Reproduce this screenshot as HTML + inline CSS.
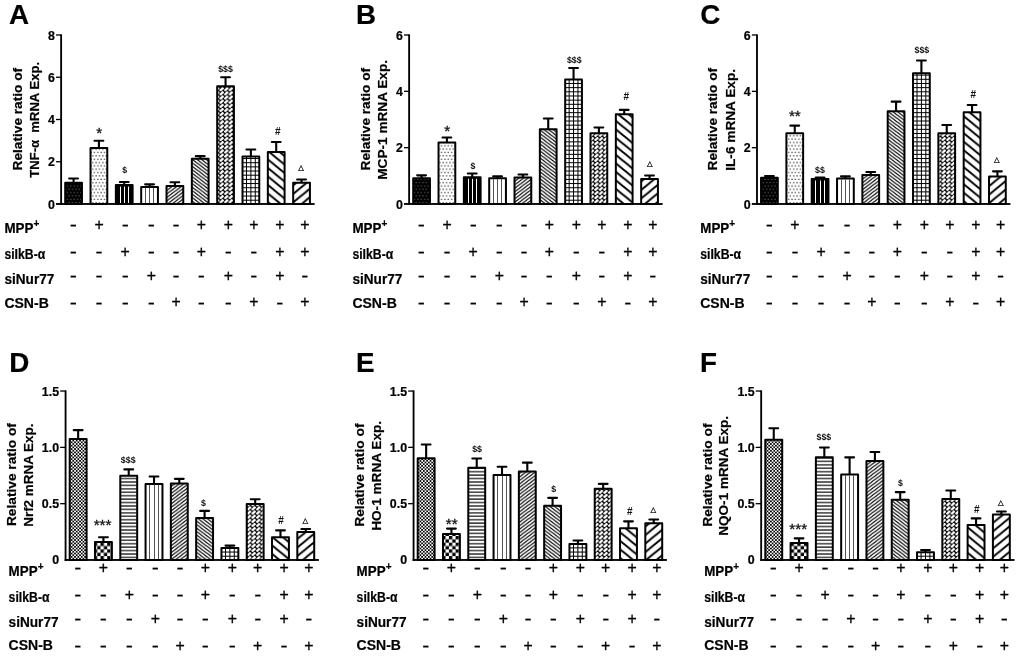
<!DOCTYPE html>
<html lang="en"><head><meta charset="utf-8"><title>Figure</title>
<style>
html,body{margin:0;padding:0;background:#fff;}
body{width:1020px;height:656px;overflow:hidden;}
svg{display:block;font-family:"Liberation Sans", sans-serif;fill:#000;}
text[font-weight=bold]{stroke:#000;stroke-width:0.2px;}
.ann{fill:#111;font-weight:bold;}
.ast{fill:#111;stroke:#111;stroke-width:0.3px;}
.sg{stroke:#000;stroke-width:0.3px;}
.mn{stroke:#000;stroke-width:0.15px;}
.tri{fill:#111;stroke:#111;stroke-width:0.25px;font-family:"DejaVu Sans","Liberation Sans", sans-serif;}
</style></head><body>
<svg width="1020" height="656" viewBox="0 0 1020 656">
<defs>
<pattern id="p_bdots" width="3.37" height="6.7" patternUnits="userSpaceOnUse"><rect width="3.37" height="6.7" fill="#000"/><rect x="1.2" y="1.2" width="1.0" height="0.9" fill="#999"/><rect x="2.9" y="4.55" width="1.0" height="0.9" fill="#999"/><rect x="-0.47" y="4.55" width="1.0" height="0.9" fill="#999"/></pattern>
<pattern id="p_wdots" width="3.37" height="6.7" patternUnits="userSpaceOnUse"><rect width="3.37" height="6.7" fill="#fff"/><rect x="1.2" y="1.2" width="1.1" height="1.1" fill="#000"/><rect x="2.9" y="4.55" width="1.1" height="1.1" fill="#000"/><rect x="-0.47" y="4.55" width="1.1" height="1.1" fill="#000"/></pattern>
<pattern id="p_horiz" width="4" height="3.43" patternUnits="userSpaceOnUse"><rect width="4" height="3.43" fill="#fff"/><rect x="0" y="1.2" width="4" height="1.15" fill="#000"/></pattern>
<pattern id="p_dfwd" width="4.6" height="3.48" patternUnits="userSpaceOnUse"><rect width="4.6" height="3.48" fill="#fff"/><path d="M-4.6,6.96 L9.2,-3.48 M-4.6,3.48 L4.6,-3.48 M0,6.96 L9.2,0" stroke="#000" stroke-width="1.2"/></pattern>
<pattern id="p_dback" width="4.6" height="3.48" patternUnits="userSpaceOnUse"><rect width="4.6" height="3.48" fill="#fff"/><path d="M-4.6,-3.48 L9.2,6.96 M-4.6,0 L4.6,6.96 M0,-3.48 L9.2,3.48" stroke="#000" stroke-width="1.2"/></pattern>
<pattern id="p_weave" width="4.57" height="4.15" patternUnits="userSpaceOnUse"><rect width="4.57" height="4.15" fill="#000"/><path d="M0.55,3.75 L4.05,0.45" stroke="#fff" stroke-width="2.35"/></pattern>
<pattern id="p_grid" width="3.6" height="3.5" patternUnits="userSpaceOnUse"><rect width="3.6" height="3.5" fill="#fff"/><path d="M0,1.75 H3.6 M1.8,0 V3.5" stroke="#000" stroke-width="1.3"/></pattern>
<pattern id="p_diamond" width="4" height="4" patternUnits="userSpaceOnUse"><rect width="4" height="4" fill="#fff"/><path d="M-1,-1 L5,5 M-1,5 L5,-1 M-1,3 L1,5 M3,-1 L5,1 M-1,1 L1,-1 M3,5 L5,3" stroke="#000" stroke-width="1"/></pattern>
<pattern id="p_wback" width="10.4" height="8.5" patternUnits="userSpaceOnUse"><rect width="10.4" height="8.5" fill="#fff"/><path d="M-10.4,-8.5 L20.8,17.0 M-10.4,0 L10.4,17.0 M0,-8.5 L20.8,8.5" stroke="#000" stroke-width="2.0"/></pattern>
<pattern id="p_wfwd" width="10.4" height="8.5" patternUnits="userSpaceOnUse"><rect width="10.4" height="8.5" fill="#fff"/><path d="M-10.4,17.0 L20.8,-8.5 M-10.4,8.5 L10.4,-8.5 M0,17.0 L20.8,0" stroke="#000" stroke-width="2.0"/></pattern>
<pattern id="p_fine" width="3.37" height="3.37" patternUnits="userSpaceOnUse"><rect width="3.37" height="3.37" fill="#fff"/><rect x="0" y="0" width="1.685" height="1.685" fill="#000"/><rect x="1.685" y="1.685" width="1.685" height="1.685" fill="#000"/></pattern>
<pattern id="p_check" width="6.7" height="6.7" patternUnits="userSpaceOnUse"><rect width="6.7" height="6.7" fill="#fff"/><rect x="0" y="0" width="3.35" height="3.35" fill="#000"/><rect x="3.35" y="3.35" width="3.35" height="3.35" fill="#000"/></pattern>
</defs>
<rect width="1020" height="656" fill="#fff"/>
<g><text x="9" y="24" font-size="27.8" font-weight="bold">A</text>
<path d="M73.58,182.8 V178.55 M69.17,178.55 H77.98" stroke="#000" stroke-width="2.1" stroke-linecap="round" fill="none"/>
<rect x="65.2" y="182.8" width="16.75" height="21.2" fill="url(#p_bdots)" stroke="#000" stroke-width="2" stroke-linejoin="round"/>
<path d="M98.91,148 V140.75 M94.5,140.75 H103.31" stroke="#000" stroke-width="2.1" stroke-linecap="round" fill="none"/>
<rect x="90.53" y="148" width="16.75" height="56" fill="url(#p_wdots)" stroke="#000" stroke-width="2" stroke-linejoin="round"/>
<path d="M124.23,185 V182.05 M119.83,182.05 H128.63" stroke="#000" stroke-width="2.1" stroke-linecap="round" fill="none"/>
<rect x="115.86" y="185" width="16.75" height="19" fill="#000" stroke="#000" stroke-width="2" stroke-linejoin="round"/>
<rect x="120" y="186.6" width="1.0" height="16.4" fill="#fff"/>
<rect x="124" y="186.6" width="1.0" height="16.4" fill="#fff"/>
<rect x="128" y="186.6" width="1.0" height="16.4" fill="#fff"/>
<path d="M149.56,186.9 V184.35 M145.16,184.35 H153.97" stroke="#000" stroke-width="2.1" stroke-linecap="round" fill="none"/>
<rect x="141.19" y="186.9" width="16.75" height="17.1" fill="#fff" stroke="#000" stroke-width="2" stroke-linejoin="round"/>
<rect x="145" y="187.7" width="1.0" height="15.3" fill="#555"/>
<rect x="149" y="187.7" width="1.0" height="15.3" fill="#555"/>
<rect x="153" y="187.7" width="1.0" height="15.3" fill="#555"/>
<path d="M174.89,186.1 V182.25 M170.49,182.25 H179.29" stroke="#000" stroke-width="2.1" stroke-linecap="round" fill="none"/>
<rect x="166.52" y="186.1" width="16.75" height="17.9" fill="url(#p_dfwd)" stroke="#000" stroke-width="2" stroke-linejoin="round"/>
<path d="M200.22,158.8 V156.15 M195.82,156.15 H204.62" stroke="#000" stroke-width="2.1" stroke-linecap="round" fill="none"/>
<rect x="191.85" y="158.8" width="16.75" height="45.2" fill="url(#p_dback)" stroke="#000" stroke-width="2" stroke-linejoin="round"/>
<path d="M225.56,86.35 V77.25 M221.16,77.25 H229.96" stroke="#000" stroke-width="2.1" stroke-linecap="round" fill="none"/>
<rect x="217.18" y="86.35" width="16.75" height="117.65" fill="url(#p_weave)" stroke="#000" stroke-width="2" stroke-linejoin="round"/>
<path d="M250.88,156.6 V149.55 M246.48,149.55 H255.28" stroke="#000" stroke-width="2.1" stroke-linecap="round" fill="none"/>
<rect x="242.51" y="156.6" width="16.75" height="47.4" fill="#fff" stroke="#000" stroke-width="2" stroke-linejoin="round"/>
<path d="M246.48,156.6 V203.5 M250.88,156.6 V203.5 M255.28,156.6 V203.5 M242.51,200.23 H259.26 M242.51,196.06 H259.26 M242.51,191.89 H259.26 M242.51,187.72 H259.26 M242.51,183.55 H259.26 M242.51,179.38 H259.26 M242.51,175.21 H259.26 M242.51,171.04 H259.26 M242.51,166.87 H259.26 M242.51,162.7 H259.26 M242.51,158.53 H259.26" stroke="#000" stroke-width="1" fill="none"/>
<path d="M276.21,152 V142.05 M271.81,142.05 H280.61" stroke="#000" stroke-width="2.1" stroke-linecap="round" fill="none"/>
<rect x="267.84" y="152" width="16.75" height="52" fill="url(#p_wback)" stroke="#000" stroke-width="2" stroke-linejoin="round"/>
<path d="M301.54,182.8 V179.55 M297.14,179.55 H305.94" stroke="#000" stroke-width="2.1" stroke-linecap="round" fill="none"/>
<rect x="293.17" y="182.8" width="16.75" height="21.2" fill="url(#p_wfwd)" stroke="#000" stroke-width="2" stroke-linejoin="round"/>
<text x="99.35" y="137.84" font-size="15.3" text-anchor="middle" class="ast">*</text>
<text x="124.8" y="173.43" font-size="8.8" text-anchor="middle" class="ann">$</text>
<text x="225.5" y="71.58" font-size="8.8" text-anchor="middle" class="ann">$$$</text>
<text x="277.7" y="135.2" font-size="10.0" text-anchor="middle" class="ann">#</text>
<text x="301" y="170.13" font-size="7.3" text-anchor="middle" class="tri">△</text>
<rect x="60.2" y="34.35" width="1.85" height="170.5" fill="#000"/>
<rect x="56" y="203.05" width="258.62" height="1.85" fill="#000"/>
<text x="54.8" y="208.55" font-size="12.4" font-weight="bold" text-anchor="end">0</text>
<rect x="56" y="161.1" width="5.1" height="1.3" fill="#000"/>
<text x="54.8" y="166.3" font-size="12.4" font-weight="bold" text-anchor="end">2</text>
<rect x="56" y="118.85" width="5.1" height="1.3" fill="#000"/>
<text x="54.8" y="124.05" font-size="12.4" font-weight="bold" text-anchor="end">4</text>
<rect x="56" y="76.6" width="5.1" height="1.3" fill="#000"/>
<text x="54.8" y="81.8" font-size="12.4" font-weight="bold" text-anchor="end">6</text>
<rect x="56" y="34.35" width="5.1" height="1.3" fill="#000"/>
<text x="54.8" y="39.55" font-size="12.4" font-weight="bold" text-anchor="end">8</text>
<text transform="translate(22.2,170.4) rotate(-90)" font-size="13.6" font-weight="bold" textLength="102.5" lengthAdjust="spacingAndGlyphs" xml:space="preserve" style="white-space:pre">Relative ratio of</text>
<text transform="translate(39.2,177.8) rotate(-90)" font-size="13.6" font-weight="bold" textLength="115.9" lengthAdjust="spacingAndGlyphs" xml:space="preserve" style="white-space:pre">TNF-α  mRNA Exp.</text>
<text x="4.4" y="232.8" font-size="13.9" font-weight="bold" textLength="29" lengthAdjust="spacingAndGlyphs">MPP</text>
<text x="33.5" y="227.4" font-size="10" font-weight="bold">+</text>
<text x="73.4" y="230.88" font-size="18" text-anchor="middle" textLength="7.1" lengthAdjust="spacingAndGlyphs" class="mn">-</text>
<text x="99.1" y="229.84" font-size="15.8" text-anchor="middle" class="sg">+</text>
<text x="125.2" y="230.88" font-size="18" text-anchor="middle" textLength="7.1" lengthAdjust="spacingAndGlyphs" class="mn">-</text>
<text x="151.3" y="230.88" font-size="18" text-anchor="middle" textLength="7.1" lengthAdjust="spacingAndGlyphs" class="mn">-</text>
<text x="176" y="230.88" font-size="18" text-anchor="middle" textLength="7.1" lengthAdjust="spacingAndGlyphs" class="mn">-</text>
<text x="201.4" y="229.84" font-size="15.8" text-anchor="middle" class="sg">+</text>
<text x="228.4" y="229.84" font-size="15.8" text-anchor="middle" class="sg">+</text>
<text x="253.9" y="229.84" font-size="15.8" text-anchor="middle" class="sg">+</text>
<text x="279.9" y="229.84" font-size="15.8" text-anchor="middle" class="sg">+</text>
<text x="304.8" y="229.84" font-size="15.8" text-anchor="middle" class="sg">+</text>
<text x="4.4" y="259.4" font-size="13.9" font-weight="bold" textLength="40.9" lengthAdjust="spacingAndGlyphs">siIkB-α</text>
<text x="73.4" y="257.68" font-size="18" text-anchor="middle" textLength="7.1" lengthAdjust="spacingAndGlyphs" class="mn">-</text>
<text x="99.1" y="257.68" font-size="18" text-anchor="middle" textLength="7.1" lengthAdjust="spacingAndGlyphs" class="mn">-</text>
<text x="125.2" y="256.84" font-size="15.8" text-anchor="middle" class="sg">+</text>
<text x="151.3" y="257.68" font-size="18" text-anchor="middle" textLength="7.1" lengthAdjust="spacingAndGlyphs" class="mn">-</text>
<text x="176" y="257.68" font-size="18" text-anchor="middle" textLength="7.1" lengthAdjust="spacingAndGlyphs" class="mn">-</text>
<text x="201.4" y="256.84" font-size="15.8" text-anchor="middle" class="sg">+</text>
<text x="228.4" y="257.68" font-size="18" text-anchor="middle" textLength="7.1" lengthAdjust="spacingAndGlyphs" class="mn">-</text>
<text x="253.9" y="257.68" font-size="18" text-anchor="middle" textLength="7.1" lengthAdjust="spacingAndGlyphs" class="mn">-</text>
<text x="279.9" y="256.84" font-size="15.8" text-anchor="middle" class="sg">+</text>
<text x="304.8" y="256.84" font-size="15.8" text-anchor="middle" class="sg">+</text>
<text x="4.4" y="284.2" font-size="13.9" font-weight="bold" textLength="50" lengthAdjust="spacingAndGlyphs">siNur77</text>
<text x="73.4" y="281.68" font-size="18" text-anchor="middle" textLength="7.1" lengthAdjust="spacingAndGlyphs" class="mn">-</text>
<text x="99.1" y="281.68" font-size="18" text-anchor="middle" textLength="7.1" lengthAdjust="spacingAndGlyphs" class="mn">-</text>
<text x="125.2" y="281.68" font-size="18" text-anchor="middle" textLength="7.1" lengthAdjust="spacingAndGlyphs" class="mn">-</text>
<text x="151.3" y="280.84" font-size="15.8" text-anchor="middle" class="sg">+</text>
<text x="176" y="281.68" font-size="18" text-anchor="middle" textLength="7.1" lengthAdjust="spacingAndGlyphs" class="mn">-</text>
<text x="201.4" y="281.68" font-size="18" text-anchor="middle" textLength="7.1" lengthAdjust="spacingAndGlyphs" class="mn">-</text>
<text x="228.4" y="280.84" font-size="15.8" text-anchor="middle" class="sg">+</text>
<text x="253.9" y="281.68" font-size="18" text-anchor="middle" textLength="7.1" lengthAdjust="spacingAndGlyphs" class="mn">-</text>
<text x="279.9" y="280.84" font-size="15.8" text-anchor="middle" class="sg">+</text>
<text x="304.8" y="281.68" font-size="18" text-anchor="middle" textLength="7.1" lengthAdjust="spacingAndGlyphs" class="mn">-</text>
<text x="4.4" y="307.8" font-size="13.9" font-weight="bold" textLength="44.4" lengthAdjust="spacingAndGlyphs">CSN-B</text>
<text x="73.4" y="308.63" font-size="18" text-anchor="middle" textLength="7.1" lengthAdjust="spacingAndGlyphs" class="mn">-</text>
<text x="99.1" y="308.63" font-size="18" text-anchor="middle" textLength="7.1" lengthAdjust="spacingAndGlyphs" class="mn">-</text>
<text x="125.2" y="308.63" font-size="18" text-anchor="middle" textLength="7.1" lengthAdjust="spacingAndGlyphs" class="mn">-</text>
<text x="151.3" y="308.63" font-size="18" text-anchor="middle" textLength="7.1" lengthAdjust="spacingAndGlyphs" class="mn">-</text>
<text x="176" y="307.04" font-size="15.8" text-anchor="middle" class="sg">+</text>
<text x="201.4" y="308.63" font-size="18" text-anchor="middle" textLength="7.1" lengthAdjust="spacingAndGlyphs" class="mn">-</text>
<text x="228.4" y="308.63" font-size="18" text-anchor="middle" textLength="7.1" lengthAdjust="spacingAndGlyphs" class="mn">-</text>
<text x="253.9" y="307.04" font-size="15.8" text-anchor="middle" class="sg">+</text>
<text x="279.9" y="308.63" font-size="18" text-anchor="middle" textLength="7.1" lengthAdjust="spacingAndGlyphs" class="mn">-</text>
<text x="304.8" y="307.04" font-size="15.8" text-anchor="middle" class="sg">+</text></g>
<g><text x="355.9" y="24" font-size="27.8" font-weight="bold">B</text>
<path d="M421.57,178.2 V175.35 M417.18,175.35 H425.97" stroke="#000" stroke-width="2.1" stroke-linecap="round" fill="none"/>
<rect x="413.2" y="178.2" width="16.75" height="25.8" fill="url(#p_bdots)" stroke="#000" stroke-width="2" stroke-linejoin="round"/>
<path d="M446.9,142.6 V137.55 M442.5,137.55 H451.3" stroke="#000" stroke-width="2.1" stroke-linecap="round" fill="none"/>
<rect x="438.53" y="142.6" width="16.75" height="61.4" fill="url(#p_wdots)" stroke="#000" stroke-width="2" stroke-linejoin="round"/>
<path d="M472.24,177.2 V173.55 M467.84,173.55 H476.63" stroke="#000" stroke-width="2.1" stroke-linecap="round" fill="none"/>
<rect x="463.86" y="177.2" width="16.75" height="26.8" fill="#000" stroke="#000" stroke-width="2" stroke-linejoin="round"/>
<rect x="468" y="178.8" width="1.0" height="24.2" fill="#fff"/>
<rect x="472" y="178.8" width="1.0" height="24.2" fill="#fff"/>
<rect x="476" y="178.8" width="1.0" height="24.2" fill="#fff"/>
<path d="M497.56,178.2 V176.35 M493.17,176.35 H501.96" stroke="#000" stroke-width="2.1" stroke-linecap="round" fill="none"/>
<rect x="489.19" y="178.2" width="16.75" height="25.8" fill="#fff" stroke="#000" stroke-width="2" stroke-linejoin="round"/>
<rect x="493" y="179" width="1.0" height="24" fill="#555"/>
<rect x="497" y="179" width="1.0" height="24" fill="#555"/>
<rect x="501" y="179" width="1.0" height="24" fill="#555"/>
<path d="M522.89,177.5 V174.55 M518.5,174.55 H527.29" stroke="#000" stroke-width="2.1" stroke-linecap="round" fill="none"/>
<rect x="514.52" y="177.5" width="16.75" height="26.5" fill="url(#p_dfwd)" stroke="#000" stroke-width="2" stroke-linejoin="round"/>
<path d="M548.23,129.3 V118.45 M543.83,118.45 H552.62" stroke="#000" stroke-width="2.1" stroke-linecap="round" fill="none"/>
<rect x="539.85" y="129.3" width="16.75" height="74.7" fill="url(#p_dback)" stroke="#000" stroke-width="2" stroke-linejoin="round"/>
<path d="M573.55,79.5 V67.95 M569.15,67.95 H577.95" stroke="#000" stroke-width="2.1" stroke-linecap="round" fill="none"/>
<rect x="565.18" y="79.5" width="16.75" height="124.5" fill="#fff" stroke="#000" stroke-width="2" stroke-linejoin="round"/>
<path d="M569.15,79.5 V203.5 M573.55,79.5 V203.5 M577.95,79.5 V203.5 M565.18,200.23 H581.93 M565.18,196.06 H581.93 M565.18,191.89 H581.93 M565.18,187.72 H581.93 M565.18,183.55 H581.93 M565.18,179.38 H581.93 M565.18,175.21 H581.93 M565.18,171.04 H581.93 M565.18,166.87 H581.93 M565.18,162.7 H581.93 M565.18,158.53 H581.93 M565.18,154.36 H581.93 M565.18,150.19 H581.93 M565.18,146.02 H581.93 M565.18,141.85 H581.93 M565.18,137.68 H581.93 M565.18,133.51 H581.93 M565.18,129.34 H581.93 M565.18,125.17 H581.93 M565.18,121 H581.93 M565.18,116.83 H581.93 M565.18,112.66 H581.93 M565.18,108.49 H581.93 M565.18,104.32 H581.93 M565.18,100.15 H581.93 M565.18,95.98 H581.93 M565.18,91.81 H581.93 M565.18,87.64 H581.93 M565.18,83.47 H581.93" stroke="#000" stroke-width="1" fill="none"/>
<path d="M598.88,133.2 V127.5 M594.49,127.5 H603.28" stroke="#000" stroke-width="2.1" stroke-linecap="round" fill="none"/>
<rect x="590.51" y="133.2" width="16.75" height="70.8" fill="url(#p_weave)" stroke="#000" stroke-width="2" stroke-linejoin="round"/>
<path d="M624.21,114.15 V109.85 M619.81,109.85 H628.61" stroke="#000" stroke-width="2.1" stroke-linecap="round" fill="none"/>
<rect x="615.84" y="114.15" width="16.75" height="89.85" fill="url(#p_wback)" stroke="#000" stroke-width="2" stroke-linejoin="round"/>
<path d="M649.54,179.1 V175.45 M645.14,175.45 H653.94" stroke="#000" stroke-width="2.1" stroke-linecap="round" fill="none"/>
<rect x="641.17" y="179.1" width="16.75" height="24.9" fill="url(#p_wfwd)" stroke="#000" stroke-width="2" stroke-linejoin="round"/>
<text x="447.35" y="135.74" font-size="15.3" text-anchor="middle" class="ast">*</text>
<text x="472.9" y="169.28" font-size="8.8" text-anchor="middle" class="ann">$</text>
<text x="574.3" y="62.93" font-size="8.8" text-anchor="middle" class="ann">$$$</text>
<text x="626.3" y="99.5" font-size="10.0" text-anchor="middle" class="ann">#</text>
<text x="649.9" y="165.93" font-size="7.3" text-anchor="middle" class="tri">△</text>
<rect x="408.2" y="34.35" width="1.85" height="170.5" fill="#000"/>
<rect x="404" y="203.05" width="258.62" height="1.85" fill="#000"/>
<text x="402.8" y="208.55" font-size="12.4" font-weight="bold" text-anchor="end">0</text>
<rect x="404" y="147.02" width="5.1" height="1.3" fill="#000"/>
<text x="402.8" y="152.22" font-size="12.4" font-weight="bold" text-anchor="end">2</text>
<rect x="404" y="90.68" width="5.1" height="1.3" fill="#000"/>
<text x="402.8" y="95.88" font-size="12.4" font-weight="bold" text-anchor="end">4</text>
<rect x="404" y="34.35" width="5.1" height="1.3" fill="#000"/>
<text x="402.8" y="39.55" font-size="12.4" font-weight="bold" text-anchor="end">6</text>
<text transform="translate(369.8,170.4) rotate(-90)" font-size="13.6" font-weight="bold" textLength="102.5" lengthAdjust="spacingAndGlyphs" xml:space="preserve" style="white-space:pre">Relative ratio of</text>
<text transform="translate(386.6,179.75) rotate(-90)" font-size="13.6" font-weight="bold" textLength="119.8" lengthAdjust="spacingAndGlyphs" xml:space="preserve" style="white-space:pre">MCP-1 mRNA Exp.</text>
<text x="352.4" y="232.8" font-size="13.9" font-weight="bold" textLength="29" lengthAdjust="spacingAndGlyphs">MPP</text>
<text x="381.5" y="227.4" font-size="10" font-weight="bold">+</text>
<text x="421.4" y="230.88" font-size="18" text-anchor="middle" textLength="7.1" lengthAdjust="spacingAndGlyphs" class="mn">-</text>
<text x="447.1" y="229.84" font-size="15.8" text-anchor="middle" class="sg">+</text>
<text x="473.2" y="230.88" font-size="18" text-anchor="middle" textLength="7.1" lengthAdjust="spacingAndGlyphs" class="mn">-</text>
<text x="499.3" y="230.88" font-size="18" text-anchor="middle" textLength="7.1" lengthAdjust="spacingAndGlyphs" class="mn">-</text>
<text x="524" y="230.88" font-size="18" text-anchor="middle" textLength="7.1" lengthAdjust="spacingAndGlyphs" class="mn">-</text>
<text x="549.4" y="229.84" font-size="15.8" text-anchor="middle" class="sg">+</text>
<text x="576.4" y="229.84" font-size="15.8" text-anchor="middle" class="sg">+</text>
<text x="601.9" y="229.84" font-size="15.8" text-anchor="middle" class="sg">+</text>
<text x="627.9" y="229.84" font-size="15.8" text-anchor="middle" class="sg">+</text>
<text x="652.8" y="229.84" font-size="15.8" text-anchor="middle" class="sg">+</text>
<text x="352.4" y="259.4" font-size="13.9" font-weight="bold" textLength="40.9" lengthAdjust="spacingAndGlyphs">siIkB-α</text>
<text x="421.4" y="257.68" font-size="18" text-anchor="middle" textLength="7.1" lengthAdjust="spacingAndGlyphs" class="mn">-</text>
<text x="447.1" y="257.68" font-size="18" text-anchor="middle" textLength="7.1" lengthAdjust="spacingAndGlyphs" class="mn">-</text>
<text x="473.2" y="256.84" font-size="15.8" text-anchor="middle" class="sg">+</text>
<text x="499.3" y="257.68" font-size="18" text-anchor="middle" textLength="7.1" lengthAdjust="spacingAndGlyphs" class="mn">-</text>
<text x="524" y="257.68" font-size="18" text-anchor="middle" textLength="7.1" lengthAdjust="spacingAndGlyphs" class="mn">-</text>
<text x="549.4" y="256.84" font-size="15.8" text-anchor="middle" class="sg">+</text>
<text x="576.4" y="257.68" font-size="18" text-anchor="middle" textLength="7.1" lengthAdjust="spacingAndGlyphs" class="mn">-</text>
<text x="601.9" y="257.68" font-size="18" text-anchor="middle" textLength="7.1" lengthAdjust="spacingAndGlyphs" class="mn">-</text>
<text x="627.9" y="256.84" font-size="15.8" text-anchor="middle" class="sg">+</text>
<text x="652.8" y="256.84" font-size="15.8" text-anchor="middle" class="sg">+</text>
<text x="352.4" y="284.2" font-size="13.9" font-weight="bold" textLength="50" lengthAdjust="spacingAndGlyphs">siNur77</text>
<text x="421.4" y="281.68" font-size="18" text-anchor="middle" textLength="7.1" lengthAdjust="spacingAndGlyphs" class="mn">-</text>
<text x="447.1" y="281.68" font-size="18" text-anchor="middle" textLength="7.1" lengthAdjust="spacingAndGlyphs" class="mn">-</text>
<text x="473.2" y="281.68" font-size="18" text-anchor="middle" textLength="7.1" lengthAdjust="spacingAndGlyphs" class="mn">-</text>
<text x="499.3" y="280.84" font-size="15.8" text-anchor="middle" class="sg">+</text>
<text x="524" y="281.68" font-size="18" text-anchor="middle" textLength="7.1" lengthAdjust="spacingAndGlyphs" class="mn">-</text>
<text x="549.4" y="281.68" font-size="18" text-anchor="middle" textLength="7.1" lengthAdjust="spacingAndGlyphs" class="mn">-</text>
<text x="576.4" y="280.84" font-size="15.8" text-anchor="middle" class="sg">+</text>
<text x="601.9" y="281.68" font-size="18" text-anchor="middle" textLength="7.1" lengthAdjust="spacingAndGlyphs" class="mn">-</text>
<text x="627.9" y="280.84" font-size="15.8" text-anchor="middle" class="sg">+</text>
<text x="652.8" y="281.68" font-size="18" text-anchor="middle" textLength="7.1" lengthAdjust="spacingAndGlyphs" class="mn">-</text>
<text x="352.4" y="307.8" font-size="13.9" font-weight="bold" textLength="44.4" lengthAdjust="spacingAndGlyphs">CSN-B</text>
<text x="421.4" y="308.63" font-size="18" text-anchor="middle" textLength="7.1" lengthAdjust="spacingAndGlyphs" class="mn">-</text>
<text x="447.1" y="308.63" font-size="18" text-anchor="middle" textLength="7.1" lengthAdjust="spacingAndGlyphs" class="mn">-</text>
<text x="473.2" y="308.63" font-size="18" text-anchor="middle" textLength="7.1" lengthAdjust="spacingAndGlyphs" class="mn">-</text>
<text x="499.3" y="308.63" font-size="18" text-anchor="middle" textLength="7.1" lengthAdjust="spacingAndGlyphs" class="mn">-</text>
<text x="524" y="307.04" font-size="15.8" text-anchor="middle" class="sg">+</text>
<text x="549.4" y="308.63" font-size="18" text-anchor="middle" textLength="7.1" lengthAdjust="spacingAndGlyphs" class="mn">-</text>
<text x="576.4" y="308.63" font-size="18" text-anchor="middle" textLength="7.1" lengthAdjust="spacingAndGlyphs" class="mn">-</text>
<text x="601.9" y="307.04" font-size="15.8" text-anchor="middle" class="sg">+</text>
<text x="627.9" y="308.63" font-size="18" text-anchor="middle" textLength="7.1" lengthAdjust="spacingAndGlyphs" class="mn">-</text>
<text x="652.8" y="307.04" font-size="15.8" text-anchor="middle" class="sg">+</text></g>
<g><text x="700.3" y="24" font-size="27.8" font-weight="bold">C</text>
<path d="M769.43,177.8 V176.05 M765.03,176.05 H773.83" stroke="#000" stroke-width="2.1" stroke-linecap="round" fill="none"/>
<rect x="761.05" y="177.8" width="16.75" height="26.2" fill="url(#p_bdots)" stroke="#000" stroke-width="2" stroke-linejoin="round"/>
<path d="M794.76,133.35 V125.6 M790.36,125.6 H799.16" stroke="#000" stroke-width="2.1" stroke-linecap="round" fill="none"/>
<rect x="786.38" y="133.35" width="16.75" height="70.65" fill="url(#p_wdots)" stroke="#000" stroke-width="2" stroke-linejoin="round"/>
<path d="M820.09,178.9 V177.55 M815.69,177.55 H824.49" stroke="#000" stroke-width="2.1" stroke-linecap="round" fill="none"/>
<rect x="811.71" y="178.9" width="16.75" height="25.1" fill="#000" stroke="#000" stroke-width="2" stroke-linejoin="round"/>
<rect x="815" y="180.5" width="1.0" height="22.5" fill="#fff"/>
<rect x="820" y="180.5" width="1.0" height="22.5" fill="#fff"/>
<rect x="824" y="180.5" width="1.0" height="22.5" fill="#fff"/>
<path d="M845.42,178.5 V176.35 M841.02,176.35 H849.82" stroke="#000" stroke-width="2.1" stroke-linecap="round" fill="none"/>
<rect x="837.04" y="178.5" width="16.75" height="25.5" fill="#fff" stroke="#000" stroke-width="2" stroke-linejoin="round"/>
<rect x="841" y="179.3" width="1.0" height="23.7" fill="#555"/>
<rect x="845" y="179.3" width="1.0" height="23.7" fill="#555"/>
<rect x="849" y="179.3" width="1.0" height="23.7" fill="#555"/>
<path d="M870.75,175.1 V171.95 M866.35,171.95 H875.15" stroke="#000" stroke-width="2.1" stroke-linecap="round" fill="none"/>
<rect x="862.37" y="175.1" width="16.75" height="28.9" fill="url(#p_dfwd)" stroke="#000" stroke-width="2" stroke-linejoin="round"/>
<path d="M896.08,111.15 V101.65 M891.68,101.65 H900.48" stroke="#000" stroke-width="2.1" stroke-linecap="round" fill="none"/>
<rect x="887.7" y="111.15" width="16.75" height="92.85" fill="url(#p_dback)" stroke="#000" stroke-width="2" stroke-linejoin="round"/>
<path d="M921.41,73.35 V60.45 M917.01,60.45 H925.81" stroke="#000" stroke-width="2.1" stroke-linecap="round" fill="none"/>
<rect x="913.03" y="73.35" width="16.75" height="130.65" fill="#fff" stroke="#000" stroke-width="2" stroke-linejoin="round"/>
<path d="M917.01,73.35 V203.5 M921.41,73.35 V203.5 M925.81,73.35 V203.5 M913.03,200.23 H929.78 M913.03,196.06 H929.78 M913.03,191.89 H929.78 M913.03,187.72 H929.78 M913.03,183.55 H929.78 M913.03,179.38 H929.78 M913.03,175.21 H929.78 M913.03,171.04 H929.78 M913.03,166.87 H929.78 M913.03,162.7 H929.78 M913.03,158.53 H929.78 M913.03,154.36 H929.78 M913.03,150.19 H929.78 M913.03,146.02 H929.78 M913.03,141.85 H929.78 M913.03,137.68 H929.78 M913.03,133.51 H929.78 M913.03,129.34 H929.78 M913.03,125.17 H929.78 M913.03,121 H929.78 M913.03,116.83 H929.78 M913.03,112.66 H929.78 M913.03,108.49 H929.78 M913.03,104.32 H929.78 M913.03,100.15 H929.78 M913.03,95.98 H929.78 M913.03,91.81 H929.78 M913.03,87.64 H929.78 M913.03,83.47 H929.78 M913.03,79.3 H929.78 M913.03,75.13 H929.78" stroke="#000" stroke-width="1" fill="none"/>
<path d="M946.74,133.25 V125.05 M942.34,125.05 H951.14" stroke="#000" stroke-width="2.1" stroke-linecap="round" fill="none"/>
<rect x="938.36" y="133.25" width="16.75" height="70.75" fill="url(#p_weave)" stroke="#000" stroke-width="2" stroke-linejoin="round"/>
<path d="M972.07,112.3 V105.05 M967.67,105.05 H976.47" stroke="#000" stroke-width="2.1" stroke-linecap="round" fill="none"/>
<rect x="963.69" y="112.3" width="16.75" height="91.7" fill="url(#p_wback)" stroke="#000" stroke-width="2" stroke-linejoin="round"/>
<path d="M997.39,176.6 V171.35 M993,171.35 H1001.79" stroke="#000" stroke-width="2.1" stroke-linecap="round" fill="none"/>
<rect x="989.02" y="176.6" width="16.75" height="27.4" fill="url(#p_wfwd)" stroke="#000" stroke-width="2" stroke-linejoin="round"/>
<text x="794.85" y="121.44" font-size="15.3" text-anchor="middle" class="ast">**</text>
<text x="820" y="172.93" font-size="8.8" text-anchor="middle" class="ann">$$</text>
<text x="921.9" y="52.63" font-size="8.8" text-anchor="middle" class="ann">$$$</text>
<text x="973.4" y="98.3" font-size="10.0" text-anchor="middle" class="ann">#</text>
<text x="996.85" y="162.33" font-size="7.3" text-anchor="middle" class="tri">△</text>
<rect x="756.05" y="34.35" width="1.85" height="170.5" fill="#000"/>
<rect x="751.85" y="203.05" width="258.62" height="1.85" fill="#000"/>
<text x="750.65" y="208.55" font-size="12.4" font-weight="bold" text-anchor="end">0</text>
<rect x="751.85" y="147.02" width="5.1" height="1.3" fill="#000"/>
<text x="750.65" y="152.22" font-size="12.4" font-weight="bold" text-anchor="end">2</text>
<rect x="751.85" y="90.68" width="5.1" height="1.3" fill="#000"/>
<text x="750.65" y="95.88" font-size="12.4" font-weight="bold" text-anchor="end">4</text>
<rect x="751.85" y="34.35" width="5.1" height="1.3" fill="#000"/>
<text x="750.65" y="39.55" font-size="12.4" font-weight="bold" text-anchor="end">6</text>
<text transform="translate(717.4,170.4) rotate(-90)" font-size="13.6" font-weight="bold" textLength="102.5" lengthAdjust="spacingAndGlyphs" xml:space="preserve" style="white-space:pre">Relative ratio of</text>
<text transform="translate(734.65,170.8) rotate(-90)" font-size="13.6" font-weight="bold" textLength="101.9" lengthAdjust="spacingAndGlyphs" xml:space="preserve" style="white-space:pre">IL-6 mRNA Exp.</text>
<text x="700.25" y="232.8" font-size="13.9" font-weight="bold" textLength="29" lengthAdjust="spacingAndGlyphs">MPP</text>
<text x="729.35" y="227.4" font-size="10" font-weight="bold">+</text>
<text x="769.25" y="230.88" font-size="18" text-anchor="middle" textLength="7.1" lengthAdjust="spacingAndGlyphs" class="mn">-</text>
<text x="794.95" y="229.84" font-size="15.8" text-anchor="middle" class="sg">+</text>
<text x="821.05" y="230.88" font-size="18" text-anchor="middle" textLength="7.1" lengthAdjust="spacingAndGlyphs" class="mn">-</text>
<text x="847.15" y="230.88" font-size="18" text-anchor="middle" textLength="7.1" lengthAdjust="spacingAndGlyphs" class="mn">-</text>
<text x="871.85" y="230.88" font-size="18" text-anchor="middle" textLength="7.1" lengthAdjust="spacingAndGlyphs" class="mn">-</text>
<text x="897.25" y="229.84" font-size="15.8" text-anchor="middle" class="sg">+</text>
<text x="924.25" y="229.84" font-size="15.8" text-anchor="middle" class="sg">+</text>
<text x="949.75" y="229.84" font-size="15.8" text-anchor="middle" class="sg">+</text>
<text x="975.75" y="229.84" font-size="15.8" text-anchor="middle" class="sg">+</text>
<text x="1000.65" y="229.84" font-size="15.8" text-anchor="middle" class="sg">+</text>
<text x="700.25" y="259.4" font-size="13.9" font-weight="bold" textLength="40.9" lengthAdjust="spacingAndGlyphs">siIkB-α</text>
<text x="769.25" y="257.68" font-size="18" text-anchor="middle" textLength="7.1" lengthAdjust="spacingAndGlyphs" class="mn">-</text>
<text x="794.95" y="257.68" font-size="18" text-anchor="middle" textLength="7.1" lengthAdjust="spacingAndGlyphs" class="mn">-</text>
<text x="821.05" y="256.84" font-size="15.8" text-anchor="middle" class="sg">+</text>
<text x="847.15" y="257.68" font-size="18" text-anchor="middle" textLength="7.1" lengthAdjust="spacingAndGlyphs" class="mn">-</text>
<text x="871.85" y="257.68" font-size="18" text-anchor="middle" textLength="7.1" lengthAdjust="spacingAndGlyphs" class="mn">-</text>
<text x="897.25" y="256.84" font-size="15.8" text-anchor="middle" class="sg">+</text>
<text x="924.25" y="257.68" font-size="18" text-anchor="middle" textLength="7.1" lengthAdjust="spacingAndGlyphs" class="mn">-</text>
<text x="949.75" y="257.68" font-size="18" text-anchor="middle" textLength="7.1" lengthAdjust="spacingAndGlyphs" class="mn">-</text>
<text x="975.75" y="256.84" font-size="15.8" text-anchor="middle" class="sg">+</text>
<text x="1000.65" y="256.84" font-size="15.8" text-anchor="middle" class="sg">+</text>
<text x="700.25" y="284.2" font-size="13.9" font-weight="bold" textLength="50" lengthAdjust="spacingAndGlyphs">siNur77</text>
<text x="769.25" y="281.68" font-size="18" text-anchor="middle" textLength="7.1" lengthAdjust="spacingAndGlyphs" class="mn">-</text>
<text x="794.95" y="281.68" font-size="18" text-anchor="middle" textLength="7.1" lengthAdjust="spacingAndGlyphs" class="mn">-</text>
<text x="821.05" y="281.68" font-size="18" text-anchor="middle" textLength="7.1" lengthAdjust="spacingAndGlyphs" class="mn">-</text>
<text x="847.15" y="280.84" font-size="15.8" text-anchor="middle" class="sg">+</text>
<text x="871.85" y="281.68" font-size="18" text-anchor="middle" textLength="7.1" lengthAdjust="spacingAndGlyphs" class="mn">-</text>
<text x="897.25" y="281.68" font-size="18" text-anchor="middle" textLength="7.1" lengthAdjust="spacingAndGlyphs" class="mn">-</text>
<text x="924.25" y="280.84" font-size="15.8" text-anchor="middle" class="sg">+</text>
<text x="949.75" y="281.68" font-size="18" text-anchor="middle" textLength="7.1" lengthAdjust="spacingAndGlyphs" class="mn">-</text>
<text x="975.75" y="280.84" font-size="15.8" text-anchor="middle" class="sg">+</text>
<text x="1000.65" y="281.68" font-size="18" text-anchor="middle" textLength="7.1" lengthAdjust="spacingAndGlyphs" class="mn">-</text>
<text x="700.25" y="307.8" font-size="13.9" font-weight="bold" textLength="44.4" lengthAdjust="spacingAndGlyphs">CSN-B</text>
<text x="769.25" y="308.63" font-size="18" text-anchor="middle" textLength="7.1" lengthAdjust="spacingAndGlyphs" class="mn">-</text>
<text x="794.95" y="308.63" font-size="18" text-anchor="middle" textLength="7.1" lengthAdjust="spacingAndGlyphs" class="mn">-</text>
<text x="821.05" y="308.63" font-size="18" text-anchor="middle" textLength="7.1" lengthAdjust="spacingAndGlyphs" class="mn">-</text>
<text x="847.15" y="308.63" font-size="18" text-anchor="middle" textLength="7.1" lengthAdjust="spacingAndGlyphs" class="mn">-</text>
<text x="871.85" y="307.04" font-size="15.8" text-anchor="middle" class="sg">+</text>
<text x="897.25" y="308.63" font-size="18" text-anchor="middle" textLength="7.1" lengthAdjust="spacingAndGlyphs" class="mn">-</text>
<text x="924.25" y="308.63" font-size="18" text-anchor="middle" textLength="7.1" lengthAdjust="spacingAndGlyphs" class="mn">-</text>
<text x="949.75" y="307.04" font-size="15.8" text-anchor="middle" class="sg">+</text>
<text x="975.75" y="308.63" font-size="18" text-anchor="middle" textLength="7.1" lengthAdjust="spacingAndGlyphs" class="mn">-</text>
<text x="1000.65" y="307.04" font-size="15.8" text-anchor="middle" class="sg">+</text></g>
<g><text x="9.3" y="372" font-size="27.8" font-weight="bold">D</text>
<path d="M78.15,438.9 V430.15 M73.75,430.15 H82.55" stroke="#000" stroke-width="2.1" stroke-linecap="round" fill="none"/>
<rect x="69.7" y="438.9" width="16.9" height="121.1" fill="url(#p_fine)" stroke="#000" stroke-width="2" stroke-linejoin="round"/>
<path d="M103.44,542.1 V537.25 M99.04,537.25 H107.84" stroke="#000" stroke-width="2.1" stroke-linecap="round" fill="none"/>
<rect x="94.99" y="542.1" width="16.9" height="17.9" fill="url(#p_check)" stroke="#000" stroke-width="2" stroke-linejoin="round"/>
<path d="M128.73,475.7 V469.4 M124.33,469.4 H133.13" stroke="#000" stroke-width="2.1" stroke-linecap="round" fill="none"/>
<rect x="120.28" y="475.7" width="16.9" height="84.3" fill="url(#p_horiz)" stroke="#000" stroke-width="2" stroke-linejoin="round"/>
<path d="M154.02,483.9 V476.5 M149.62,476.5 H158.42" stroke="#000" stroke-width="2.1" stroke-linecap="round" fill="none"/>
<rect x="145.57" y="483.9" width="16.9" height="76.1" fill="#fff" stroke="#000" stroke-width="2" stroke-linejoin="round"/>
<rect x="149" y="484.7" width="1.0" height="74.3" fill="#555"/>
<rect x="154" y="484.7" width="1.0" height="74.3" fill="#555"/>
<rect x="158" y="484.7" width="1.0" height="74.3" fill="#555"/>
<path d="M179.31,483.6 V478.85 M174.91,478.85 H183.71" stroke="#000" stroke-width="2.1" stroke-linecap="round" fill="none"/>
<rect x="170.86" y="483.6" width="16.9" height="76.4" fill="url(#p_dfwd)" stroke="#000" stroke-width="2" stroke-linejoin="round"/>
<path d="M204.6,518.05 V510.9 M200.2,510.9 H209" stroke="#000" stroke-width="2.1" stroke-linecap="round" fill="none"/>
<rect x="196.15" y="518.05" width="16.9" height="41.95" fill="url(#p_dback)" stroke="#000" stroke-width="2" stroke-linejoin="round"/>
<path d="M229.89,547.9 V545.6 M225.49,545.6 H234.29" stroke="#000" stroke-width="2.1" stroke-linecap="round" fill="none"/>
<rect x="221.44" y="547.9" width="16.9" height="12.1" fill="#fff" stroke="#000" stroke-width="2" stroke-linejoin="round"/>
<path d="M225.49,547.9 V559.5 M229.89,547.9 V559.5 M234.29,547.9 V559.5 M221.44,556.23 H238.34 M221.44,552.06 H238.34" stroke="#000" stroke-width="1" fill="none"/>
<path d="M255.18,503.9 V499.25 M250.78,499.25 H259.58" stroke="#000" stroke-width="2.1" stroke-linecap="round" fill="none"/>
<rect x="246.73" y="503.9" width="16.9" height="56.1" fill="url(#p_weave)" stroke="#000" stroke-width="2" stroke-linejoin="round"/>
<path d="M280.47,537.2 V530.35 M276.07,530.35 H284.87" stroke="#000" stroke-width="2.1" stroke-linecap="round" fill="none"/>
<rect x="272.02" y="537.2" width="16.9" height="22.8" fill="url(#p_wback)" stroke="#000" stroke-width="2" stroke-linejoin="round"/>
<path d="M305.76,532.05 V529.05 M301.36,529.05 H310.16" stroke="#000" stroke-width="2.1" stroke-linecap="round" fill="none"/>
<rect x="297.31" y="532.05" width="16.9" height="27.95" fill="url(#p_wfwd)" stroke="#000" stroke-width="2" stroke-linejoin="round"/>
<text x="102.6" y="530.34" font-size="15.3" text-anchor="middle" class="ast">***</text>
<text x="128.2" y="462.78" font-size="8.8" text-anchor="middle" class="ann">$$$</text>
<text x="203.45" y="506.08" font-size="8.8" text-anchor="middle" class="ann">$</text>
<text x="281" y="524.3" font-size="10.0" text-anchor="middle" class="ann">#</text>
<text x="305.2" y="522.83" font-size="7.3" text-anchor="middle" class="tri">△</text>
<rect x="64.65" y="390.4" width="1.85" height="170.45" fill="#000"/>
<rect x="64.65" y="559.05" width="254.26" height="1.85" fill="#000"/>
<text x="59.1" y="564.2" font-size="12.4" font-weight="bold" text-anchor="end">0</text>
<rect x="60.15" y="503.03" width="5.4" height="1.3" fill="#000"/>
<text x="59.1" y="508.23" font-size="12.4" font-weight="bold" text-anchor="end">0.5</text>
<rect x="60.15" y="446.72" width="5.4" height="1.3" fill="#000"/>
<text x="59.1" y="451.92" font-size="12.4" font-weight="bold" text-anchor="end">1.0</text>
<rect x="60.15" y="390.4" width="5.4" height="1.3" fill="#000"/>
<text x="59.1" y="395.6" font-size="12.4" font-weight="bold" text-anchor="end">1.5</text>
<text transform="translate(16.2,526.05) rotate(-90)" font-size="13.6" font-weight="bold" textLength="102.9" lengthAdjust="spacingAndGlyphs" xml:space="preserve" style="white-space:pre">Relative ratio of</text>
<text transform="translate(32.7,526.8) rotate(-90)" font-size="13.6" font-weight="bold" textLength="103.3" lengthAdjust="spacingAndGlyphs" xml:space="preserve" style="white-space:pre">Nrf2 mRNA Exp.</text>
<text x="8.6" y="575.8" font-size="13.9" font-weight="bold" textLength="29" lengthAdjust="spacingAndGlyphs">MPP</text>
<text x="37.7" y="570.4" font-size="10" font-weight="bold">+</text>
<text x="77.8" y="573.78" font-size="18" text-anchor="middle" textLength="7.1" lengthAdjust="spacingAndGlyphs" class="mn">-</text>
<text x="103.4" y="572.94" font-size="15.8" text-anchor="middle" class="sg">+</text>
<text x="129.4" y="573.78" font-size="18" text-anchor="middle" textLength="7.1" lengthAdjust="spacingAndGlyphs" class="mn">-</text>
<text x="155.3" y="573.78" font-size="18" text-anchor="middle" textLength="7.1" lengthAdjust="spacingAndGlyphs" class="mn">-</text>
<text x="180" y="573.78" font-size="18" text-anchor="middle" textLength="7.1" lengthAdjust="spacingAndGlyphs" class="mn">-</text>
<text x="205.3" y="572.94" font-size="15.8" text-anchor="middle" class="sg">+</text>
<text x="232.3" y="572.94" font-size="15.8" text-anchor="middle" class="sg">+</text>
<text x="257.7" y="572.94" font-size="15.8" text-anchor="middle" class="sg">+</text>
<text x="284.1" y="572.94" font-size="15.8" text-anchor="middle" class="sg">+</text>
<text x="308.8" y="572.94" font-size="15.8" text-anchor="middle" class="sg">+</text>
<text x="8.6" y="602.4" font-size="13.9" font-weight="bold" textLength="40.9" lengthAdjust="spacingAndGlyphs">siIkB-α</text>
<text x="77.8" y="601.08" font-size="18" text-anchor="middle" textLength="7.1" lengthAdjust="spacingAndGlyphs" class="mn">-</text>
<text x="103.4" y="601.08" font-size="18" text-anchor="middle" textLength="7.1" lengthAdjust="spacingAndGlyphs" class="mn">-</text>
<text x="129.4" y="600.04" font-size="15.8" text-anchor="middle" class="sg">+</text>
<text x="155.3" y="601.08" font-size="18" text-anchor="middle" textLength="7.1" lengthAdjust="spacingAndGlyphs" class="mn">-</text>
<text x="180" y="601.08" font-size="18" text-anchor="middle" textLength="7.1" lengthAdjust="spacingAndGlyphs" class="mn">-</text>
<text x="205.3" y="600.04" font-size="15.8" text-anchor="middle" class="sg">+</text>
<text x="232.3" y="601.08" font-size="18" text-anchor="middle" textLength="7.1" lengthAdjust="spacingAndGlyphs" class="mn">-</text>
<text x="257.7" y="601.08" font-size="18" text-anchor="middle" textLength="7.1" lengthAdjust="spacingAndGlyphs" class="mn">-</text>
<text x="284.1" y="600.04" font-size="15.8" text-anchor="middle" class="sg">+</text>
<text x="308.8" y="600.04" font-size="15.8" text-anchor="middle" class="sg">+</text>
<text x="8.6" y="627.1" font-size="13.9" font-weight="bold" textLength="50" lengthAdjust="spacingAndGlyphs">siNur77</text>
<text x="77.8" y="624.68" font-size="18" text-anchor="middle" textLength="7.1" lengthAdjust="spacingAndGlyphs" class="mn">-</text>
<text x="103.4" y="624.68" font-size="18" text-anchor="middle" textLength="7.1" lengthAdjust="spacingAndGlyphs" class="mn">-</text>
<text x="129.4" y="624.68" font-size="18" text-anchor="middle" textLength="7.1" lengthAdjust="spacingAndGlyphs" class="mn">-</text>
<text x="155.3" y="624.04" font-size="15.8" text-anchor="middle" class="sg">+</text>
<text x="180" y="624.68" font-size="18" text-anchor="middle" textLength="7.1" lengthAdjust="spacingAndGlyphs" class="mn">-</text>
<text x="205.3" y="624.68" font-size="18" text-anchor="middle" textLength="7.1" lengthAdjust="spacingAndGlyphs" class="mn">-</text>
<text x="232.3" y="624.04" font-size="15.8" text-anchor="middle" class="sg">+</text>
<text x="257.7" y="624.68" font-size="18" text-anchor="middle" textLength="7.1" lengthAdjust="spacingAndGlyphs" class="mn">-</text>
<text x="284.1" y="624.04" font-size="15.8" text-anchor="middle" class="sg">+</text>
<text x="308.8" y="624.68" font-size="18" text-anchor="middle" textLength="7.1" lengthAdjust="spacingAndGlyphs" class="mn">-</text>
<text x="8.6" y="650.4" font-size="13.9" font-weight="bold" textLength="44.4" lengthAdjust="spacingAndGlyphs">CSN-B</text>
<text x="77.8" y="651.78" font-size="18" text-anchor="middle" textLength="7.1" lengthAdjust="spacingAndGlyphs" class="mn">-</text>
<text x="103.4" y="651.78" font-size="18" text-anchor="middle" textLength="7.1" lengthAdjust="spacingAndGlyphs" class="mn">-</text>
<text x="129.4" y="651.78" font-size="18" text-anchor="middle" textLength="7.1" lengthAdjust="spacingAndGlyphs" class="mn">-</text>
<text x="155.3" y="651.78" font-size="18" text-anchor="middle" textLength="7.1" lengthAdjust="spacingAndGlyphs" class="mn">-</text>
<text x="180" y="651.04" font-size="15.8" text-anchor="middle" class="sg">+</text>
<text x="205.3" y="651.78" font-size="18" text-anchor="middle" textLength="7.1" lengthAdjust="spacingAndGlyphs" class="mn">-</text>
<text x="232.3" y="651.78" font-size="18" text-anchor="middle" textLength="7.1" lengthAdjust="spacingAndGlyphs" class="mn">-</text>
<text x="257.7" y="651.04" font-size="15.8" text-anchor="middle" class="sg">+</text>
<text x="284.1" y="651.78" font-size="18" text-anchor="middle" textLength="7.1" lengthAdjust="spacingAndGlyphs" class="mn">-</text>
<text x="308.8" y="651.04" font-size="15.8" text-anchor="middle" class="sg">+</text></g>
<g><text x="356" y="372" font-size="27.8" font-weight="bold">E</text>
<path d="M426.15,458.2 V444.55 M421.75,444.55 H430.55" stroke="#000" stroke-width="2.1" stroke-linecap="round" fill="none"/>
<rect x="417.7" y="458.2" width="16.9" height="101.8" fill="url(#p_fine)" stroke="#000" stroke-width="2" stroke-linejoin="round"/>
<path d="M451.44,533.9 V528.6 M447.04,528.6 H455.84" stroke="#000" stroke-width="2.1" stroke-linecap="round" fill="none"/>
<rect x="442.99" y="533.9" width="16.9" height="26.1" fill="url(#p_check)" stroke="#000" stroke-width="2" stroke-linejoin="round"/>
<path d="M476.73,467.75 V458.55 M472.33,458.55 H481.13" stroke="#000" stroke-width="2.1" stroke-linecap="round" fill="none"/>
<rect x="468.28" y="467.75" width="16.9" height="92.25" fill="url(#p_horiz)" stroke="#000" stroke-width="2" stroke-linejoin="round"/>
<path d="M502.02,475.1 V466.75 M497.62,466.75 H506.42" stroke="#000" stroke-width="2.1" stroke-linecap="round" fill="none"/>
<rect x="493.57" y="475.1" width="16.9" height="84.9" fill="#fff" stroke="#000" stroke-width="2" stroke-linejoin="round"/>
<rect x="497" y="475.9" width="1.0" height="83.1" fill="#555"/>
<rect x="502" y="475.9" width="1.0" height="83.1" fill="#555"/>
<rect x="506" y="475.9" width="1.0" height="83.1" fill="#555"/>
<path d="M527.31,471.4 V462.65 M522.91,462.65 H531.71" stroke="#000" stroke-width="2.1" stroke-linecap="round" fill="none"/>
<rect x="518.86" y="471.4" width="16.9" height="88.6" fill="url(#p_dfwd)" stroke="#000" stroke-width="2" stroke-linejoin="round"/>
<path d="M552.6,505.8 V497.85 M548.2,497.85 H557" stroke="#000" stroke-width="2.1" stroke-linecap="round" fill="none"/>
<rect x="544.15" y="505.8" width="16.9" height="54.2" fill="url(#p_dback)" stroke="#000" stroke-width="2" stroke-linejoin="round"/>
<path d="M577.89,544.1 V540.45 M573.49,540.45 H582.29" stroke="#000" stroke-width="2.1" stroke-linecap="round" fill="none"/>
<rect x="569.44" y="544.1" width="16.9" height="15.9" fill="#fff" stroke="#000" stroke-width="2" stroke-linejoin="round"/>
<path d="M573.49,544.1 V559.5 M577.89,544.1 V559.5 M582.29,544.1 V559.5 M569.44,556.23 H586.34 M569.44,552.06 H586.34 M569.44,547.89 H586.34" stroke="#000" stroke-width="1" fill="none"/>
<path d="M603.18,488.65 V483.85 M598.78,483.85 H607.58" stroke="#000" stroke-width="2.1" stroke-linecap="round" fill="none"/>
<rect x="594.73" y="488.65" width="16.9" height="71.35" fill="url(#p_weave)" stroke="#000" stroke-width="2" stroke-linejoin="round"/>
<path d="M628.47,528.35 V521.35 M624.07,521.35 H632.87" stroke="#000" stroke-width="2.1" stroke-linecap="round" fill="none"/>
<rect x="620.02" y="528.35" width="16.9" height="31.65" fill="url(#p_wback)" stroke="#000" stroke-width="2" stroke-linejoin="round"/>
<path d="M653.76,523.2 V519.55 M649.36,519.55 H658.16" stroke="#000" stroke-width="2.1" stroke-linecap="round" fill="none"/>
<rect x="645.31" y="523.2" width="16.9" height="36.8" fill="url(#p_wfwd)" stroke="#000" stroke-width="2" stroke-linejoin="round"/>
<text x="451.8" y="528.74" font-size="15.3" text-anchor="middle" class="ast">**</text>
<text x="477.1" y="451.88" font-size="8.8" text-anchor="middle" class="ann">$$</text>
<text x="553.65" y="491.53" font-size="8.8" text-anchor="middle" class="ann">$</text>
<text x="629.9" y="515.1" font-size="10.0" text-anchor="middle" class="ann">#</text>
<text x="653.3" y="512.03" font-size="7.3" text-anchor="middle" class="tri">△</text>
<rect x="412.65" y="390.4" width="1.85" height="170.45" fill="#000"/>
<rect x="412.65" y="559.05" width="254.26" height="1.85" fill="#000"/>
<text x="407.1" y="564.2" font-size="12.4" font-weight="bold" text-anchor="end">0</text>
<rect x="408.15" y="503.03" width="5.4" height="1.3" fill="#000"/>
<text x="407.1" y="508.23" font-size="12.4" font-weight="bold" text-anchor="end">0.5</text>
<rect x="408.15" y="446.72" width="5.4" height="1.3" fill="#000"/>
<text x="407.1" y="451.92" font-size="12.4" font-weight="bold" text-anchor="end">1.0</text>
<rect x="408.15" y="390.4" width="5.4" height="1.3" fill="#000"/>
<text x="407.1" y="395.6" font-size="12.4" font-weight="bold" text-anchor="end">1.5</text>
<text transform="translate(364.3,526.8) rotate(-90)" font-size="13.6" font-weight="bold" textLength="103.3" lengthAdjust="spacingAndGlyphs" xml:space="preserve" style="white-space:pre">Relative ratio of</text>
<text transform="translate(380.7,530.8) rotate(-90)" font-size="13.6" font-weight="bold" textLength="109.9" lengthAdjust="spacingAndGlyphs" xml:space="preserve" style="white-space:pre">HO-1 mRNA Exp.</text>
<text x="356.6" y="575.8" font-size="13.9" font-weight="bold" textLength="29" lengthAdjust="spacingAndGlyphs">MPP</text>
<text x="385.7" y="570.4" font-size="10" font-weight="bold">+</text>
<text x="425.8" y="573.78" font-size="18" text-anchor="middle" textLength="7.1" lengthAdjust="spacingAndGlyphs" class="mn">-</text>
<text x="451.4" y="572.94" font-size="15.8" text-anchor="middle" class="sg">+</text>
<text x="477.4" y="573.78" font-size="18" text-anchor="middle" textLength="7.1" lengthAdjust="spacingAndGlyphs" class="mn">-</text>
<text x="503.3" y="573.78" font-size="18" text-anchor="middle" textLength="7.1" lengthAdjust="spacingAndGlyphs" class="mn">-</text>
<text x="528" y="573.78" font-size="18" text-anchor="middle" textLength="7.1" lengthAdjust="spacingAndGlyphs" class="mn">-</text>
<text x="553.3" y="572.94" font-size="15.8" text-anchor="middle" class="sg">+</text>
<text x="580.3" y="572.94" font-size="15.8" text-anchor="middle" class="sg">+</text>
<text x="605.7" y="572.94" font-size="15.8" text-anchor="middle" class="sg">+</text>
<text x="632.1" y="572.94" font-size="15.8" text-anchor="middle" class="sg">+</text>
<text x="656.8" y="572.94" font-size="15.8" text-anchor="middle" class="sg">+</text>
<text x="356.6" y="602.4" font-size="13.9" font-weight="bold" textLength="40.9" lengthAdjust="spacingAndGlyphs">siIkB-α</text>
<text x="425.8" y="601.08" font-size="18" text-anchor="middle" textLength="7.1" lengthAdjust="spacingAndGlyphs" class="mn">-</text>
<text x="451.4" y="601.08" font-size="18" text-anchor="middle" textLength="7.1" lengthAdjust="spacingAndGlyphs" class="mn">-</text>
<text x="477.4" y="600.04" font-size="15.8" text-anchor="middle" class="sg">+</text>
<text x="503.3" y="601.08" font-size="18" text-anchor="middle" textLength="7.1" lengthAdjust="spacingAndGlyphs" class="mn">-</text>
<text x="528" y="601.08" font-size="18" text-anchor="middle" textLength="7.1" lengthAdjust="spacingAndGlyphs" class="mn">-</text>
<text x="553.3" y="600.04" font-size="15.8" text-anchor="middle" class="sg">+</text>
<text x="580.3" y="601.08" font-size="18" text-anchor="middle" textLength="7.1" lengthAdjust="spacingAndGlyphs" class="mn">-</text>
<text x="605.7" y="601.08" font-size="18" text-anchor="middle" textLength="7.1" lengthAdjust="spacingAndGlyphs" class="mn">-</text>
<text x="632.1" y="600.04" font-size="15.8" text-anchor="middle" class="sg">+</text>
<text x="656.8" y="600.04" font-size="15.8" text-anchor="middle" class="sg">+</text>
<text x="356.6" y="627.1" font-size="13.9" font-weight="bold" textLength="50" lengthAdjust="spacingAndGlyphs">siNur77</text>
<text x="425.8" y="624.68" font-size="18" text-anchor="middle" textLength="7.1" lengthAdjust="spacingAndGlyphs" class="mn">-</text>
<text x="451.4" y="624.68" font-size="18" text-anchor="middle" textLength="7.1" lengthAdjust="spacingAndGlyphs" class="mn">-</text>
<text x="477.4" y="624.68" font-size="18" text-anchor="middle" textLength="7.1" lengthAdjust="spacingAndGlyphs" class="mn">-</text>
<text x="503.3" y="624.04" font-size="15.8" text-anchor="middle" class="sg">+</text>
<text x="528" y="624.68" font-size="18" text-anchor="middle" textLength="7.1" lengthAdjust="spacingAndGlyphs" class="mn">-</text>
<text x="553.3" y="624.68" font-size="18" text-anchor="middle" textLength="7.1" lengthAdjust="spacingAndGlyphs" class="mn">-</text>
<text x="580.3" y="624.04" font-size="15.8" text-anchor="middle" class="sg">+</text>
<text x="605.7" y="624.68" font-size="18" text-anchor="middle" textLength="7.1" lengthAdjust="spacingAndGlyphs" class="mn">-</text>
<text x="632.1" y="624.04" font-size="15.8" text-anchor="middle" class="sg">+</text>
<text x="656.8" y="624.68" font-size="18" text-anchor="middle" textLength="7.1" lengthAdjust="spacingAndGlyphs" class="mn">-</text>
<text x="356.6" y="650.4" font-size="13.9" font-weight="bold" textLength="44.4" lengthAdjust="spacingAndGlyphs">CSN-B</text>
<text x="425.8" y="651.78" font-size="18" text-anchor="middle" textLength="7.1" lengthAdjust="spacingAndGlyphs" class="mn">-</text>
<text x="451.4" y="651.78" font-size="18" text-anchor="middle" textLength="7.1" lengthAdjust="spacingAndGlyphs" class="mn">-</text>
<text x="477.4" y="651.78" font-size="18" text-anchor="middle" textLength="7.1" lengthAdjust="spacingAndGlyphs" class="mn">-</text>
<text x="503.3" y="651.78" font-size="18" text-anchor="middle" textLength="7.1" lengthAdjust="spacingAndGlyphs" class="mn">-</text>
<text x="528" y="651.04" font-size="15.8" text-anchor="middle" class="sg">+</text>
<text x="553.3" y="651.78" font-size="18" text-anchor="middle" textLength="7.1" lengthAdjust="spacingAndGlyphs" class="mn">-</text>
<text x="580.3" y="651.78" font-size="18" text-anchor="middle" textLength="7.1" lengthAdjust="spacingAndGlyphs" class="mn">-</text>
<text x="605.7" y="651.04" font-size="15.8" text-anchor="middle" class="sg">+</text>
<text x="632.1" y="651.78" font-size="18" text-anchor="middle" textLength="7.1" lengthAdjust="spacingAndGlyphs" class="mn">-</text>
<text x="656.8" y="651.04" font-size="15.8" text-anchor="middle" class="sg">+</text></g>
<g><text x="700.1" y="372" font-size="27.8" font-weight="bold">F</text>
<path d="M773.75,439.7 V428.25 M769.35,428.25 H778.15" stroke="#000" stroke-width="2.1" stroke-linecap="round" fill="none"/>
<rect x="765.3" y="439.7" width="16.9" height="120.3" fill="url(#p_fine)" stroke="#000" stroke-width="2" stroke-linejoin="round"/>
<path d="M799.04,543.1 V538.35 M794.64,538.35 H803.44" stroke="#000" stroke-width="2.1" stroke-linecap="round" fill="none"/>
<rect x="790.59" y="543.1" width="16.9" height="16.9" fill="url(#p_check)" stroke="#000" stroke-width="2" stroke-linejoin="round"/>
<path d="M824.33,457.3 V447.55 M819.93,447.55 H828.73" stroke="#000" stroke-width="2.1" stroke-linecap="round" fill="none"/>
<rect x="815.88" y="457.3" width="16.9" height="102.7" fill="url(#p_horiz)" stroke="#000" stroke-width="2" stroke-linejoin="round"/>
<path d="M849.62,474.5 V457.35 M845.22,457.35 H854.02" stroke="#000" stroke-width="2.1" stroke-linecap="round" fill="none"/>
<rect x="841.17" y="474.5" width="16.9" height="85.5" fill="#fff" stroke="#000" stroke-width="2" stroke-linejoin="round"/>
<rect x="845" y="475.3" width="1.0" height="83.7" fill="#555"/>
<rect x="849" y="475.3" width="1.0" height="83.7" fill="#555"/>
<rect x="853" y="475.3" width="1.0" height="83.7" fill="#555"/>
<path d="M874.91,461 V451.95 M870.51,451.95 H879.31" stroke="#000" stroke-width="2.1" stroke-linecap="round" fill="none"/>
<rect x="866.46" y="461" width="16.9" height="99" fill="url(#p_dfwd)" stroke="#000" stroke-width="2" stroke-linejoin="round"/>
<path d="M900.2,499.7 V492.15 M895.8,492.15 H904.6" stroke="#000" stroke-width="2.1" stroke-linecap="round" fill="none"/>
<rect x="891.75" y="499.7" width="16.9" height="60.3" fill="url(#p_dback)" stroke="#000" stroke-width="2" stroke-linejoin="round"/>
<path d="M925.49,552.2 V550.05 M921.09,550.05 H929.89" stroke="#000" stroke-width="2.1" stroke-linecap="round" fill="none"/>
<rect x="917.04" y="552.2" width="16.9" height="7.8" fill="#fff" stroke="#000" stroke-width="2" stroke-linejoin="round"/>
<path d="M921.09,552.2 V559.5 M925.49,552.2 V559.5 M929.89,552.2 V559.5 M917.04,556.23 H933.94" stroke="#000" stroke-width="1" fill="none"/>
<path d="M950.78,498.9 V490.45 M946.38,490.45 H955.18" stroke="#000" stroke-width="2.1" stroke-linecap="round" fill="none"/>
<rect x="942.33" y="498.9" width="16.9" height="61.1" fill="url(#p_weave)" stroke="#000" stroke-width="2" stroke-linejoin="round"/>
<path d="M976.07,525 V518.4 M971.67,518.4 H980.47" stroke="#000" stroke-width="2.1" stroke-linecap="round" fill="none"/>
<rect x="967.62" y="525" width="16.9" height="35" fill="url(#p_wback)" stroke="#000" stroke-width="2" stroke-linejoin="round"/>
<path d="M1001.36,514.4 V511.45 M996.96,511.45 H1005.76" stroke="#000" stroke-width="2.1" stroke-linecap="round" fill="none"/>
<rect x="992.91" y="514.4" width="16.9" height="45.6" fill="url(#p_wfwd)" stroke="#000" stroke-width="2" stroke-linejoin="round"/>
<text x="798.3" y="533.59" font-size="15.3" text-anchor="middle" class="ast">***</text>
<text x="823.85" y="440.28" font-size="8.8" text-anchor="middle" class="ann">$$$</text>
<text x="900.5" y="485.73" font-size="8.8" text-anchor="middle" class="ann">$</text>
<text x="976.9" y="513.3" font-size="10.0" text-anchor="middle" class="ann">#</text>
<text x="1000.9" y="504.98" font-size="7.3" text-anchor="middle" class="tri">△</text>
<rect x="760.25" y="390.4" width="1.85" height="170.45" fill="#000"/>
<rect x="760.25" y="559.05" width="254.26" height="1.85" fill="#000"/>
<text x="754.7" y="564.2" font-size="12.4" font-weight="bold" text-anchor="end">0</text>
<rect x="755.75" y="503.03" width="5.4" height="1.3" fill="#000"/>
<text x="754.7" y="508.23" font-size="12.4" font-weight="bold" text-anchor="end">0.5</text>
<rect x="755.75" y="446.72" width="5.4" height="1.3" fill="#000"/>
<text x="754.7" y="451.92" font-size="12.4" font-weight="bold" text-anchor="end">1.0</text>
<rect x="755.75" y="390.4" width="5.4" height="1.3" fill="#000"/>
<text x="754.7" y="395.6" font-size="12.4" font-weight="bold" text-anchor="end">1.5</text>
<text transform="translate(711.9,526.8) rotate(-90)" font-size="13.6" font-weight="bold" textLength="103.3" lengthAdjust="spacingAndGlyphs" xml:space="preserve" style="white-space:pre">Relative ratio of</text>
<text transform="translate(728.3,535.7) rotate(-90)" font-size="13.6" font-weight="bold" textLength="119.8" lengthAdjust="spacingAndGlyphs" xml:space="preserve" style="white-space:pre">NQO-1 mRNA Exp.</text>
<text x="704.2" y="575.8" font-size="13.9" font-weight="bold" textLength="29" lengthAdjust="spacingAndGlyphs">MPP</text>
<text x="733.3" y="570.4" font-size="10" font-weight="bold">+</text>
<text x="773.4" y="573.78" font-size="18" text-anchor="middle" textLength="7.1" lengthAdjust="spacingAndGlyphs" class="mn">-</text>
<text x="799" y="572.94" font-size="15.8" text-anchor="middle" class="sg">+</text>
<text x="825" y="573.78" font-size="18" text-anchor="middle" textLength="7.1" lengthAdjust="spacingAndGlyphs" class="mn">-</text>
<text x="850.9" y="573.78" font-size="18" text-anchor="middle" textLength="7.1" lengthAdjust="spacingAndGlyphs" class="mn">-</text>
<text x="875.6" y="573.78" font-size="18" text-anchor="middle" textLength="7.1" lengthAdjust="spacingAndGlyphs" class="mn">-</text>
<text x="900.9" y="572.94" font-size="15.8" text-anchor="middle" class="sg">+</text>
<text x="927.9" y="572.94" font-size="15.8" text-anchor="middle" class="sg">+</text>
<text x="953.3" y="572.94" font-size="15.8" text-anchor="middle" class="sg">+</text>
<text x="979.7" y="572.94" font-size="15.8" text-anchor="middle" class="sg">+</text>
<text x="1004.4" y="572.94" font-size="15.8" text-anchor="middle" class="sg">+</text>
<text x="704.2" y="602.4" font-size="13.9" font-weight="bold" textLength="40.9" lengthAdjust="spacingAndGlyphs">siIkB-α</text>
<text x="773.4" y="601.08" font-size="18" text-anchor="middle" textLength="7.1" lengthAdjust="spacingAndGlyphs" class="mn">-</text>
<text x="799" y="601.08" font-size="18" text-anchor="middle" textLength="7.1" lengthAdjust="spacingAndGlyphs" class="mn">-</text>
<text x="825" y="600.04" font-size="15.8" text-anchor="middle" class="sg">+</text>
<text x="850.9" y="601.08" font-size="18" text-anchor="middle" textLength="7.1" lengthAdjust="spacingAndGlyphs" class="mn">-</text>
<text x="875.6" y="601.08" font-size="18" text-anchor="middle" textLength="7.1" lengthAdjust="spacingAndGlyphs" class="mn">-</text>
<text x="900.9" y="600.04" font-size="15.8" text-anchor="middle" class="sg">+</text>
<text x="927.9" y="601.08" font-size="18" text-anchor="middle" textLength="7.1" lengthAdjust="spacingAndGlyphs" class="mn">-</text>
<text x="953.3" y="601.08" font-size="18" text-anchor="middle" textLength="7.1" lengthAdjust="spacingAndGlyphs" class="mn">-</text>
<text x="979.7" y="600.04" font-size="15.8" text-anchor="middle" class="sg">+</text>
<text x="1004.4" y="600.04" font-size="15.8" text-anchor="middle" class="sg">+</text>
<text x="704.2" y="627.1" font-size="13.9" font-weight="bold" textLength="50" lengthAdjust="spacingAndGlyphs">siNur77</text>
<text x="773.4" y="624.68" font-size="18" text-anchor="middle" textLength="7.1" lengthAdjust="spacingAndGlyphs" class="mn">-</text>
<text x="799" y="624.68" font-size="18" text-anchor="middle" textLength="7.1" lengthAdjust="spacingAndGlyphs" class="mn">-</text>
<text x="825" y="624.68" font-size="18" text-anchor="middle" textLength="7.1" lengthAdjust="spacingAndGlyphs" class="mn">-</text>
<text x="850.9" y="624.04" font-size="15.8" text-anchor="middle" class="sg">+</text>
<text x="875.6" y="624.68" font-size="18" text-anchor="middle" textLength="7.1" lengthAdjust="spacingAndGlyphs" class="mn">-</text>
<text x="900.9" y="624.68" font-size="18" text-anchor="middle" textLength="7.1" lengthAdjust="spacingAndGlyphs" class="mn">-</text>
<text x="927.9" y="624.04" font-size="15.8" text-anchor="middle" class="sg">+</text>
<text x="953.3" y="624.68" font-size="18" text-anchor="middle" textLength="7.1" lengthAdjust="spacingAndGlyphs" class="mn">-</text>
<text x="979.7" y="624.04" font-size="15.8" text-anchor="middle" class="sg">+</text>
<text x="1004.4" y="624.68" font-size="18" text-anchor="middle" textLength="7.1" lengthAdjust="spacingAndGlyphs" class="mn">-</text>
<text x="704.2" y="650.4" font-size="13.9" font-weight="bold" textLength="44.4" lengthAdjust="spacingAndGlyphs">CSN-B</text>
<text x="773.4" y="651.78" font-size="18" text-anchor="middle" textLength="7.1" lengthAdjust="spacingAndGlyphs" class="mn">-</text>
<text x="799" y="651.78" font-size="18" text-anchor="middle" textLength="7.1" lengthAdjust="spacingAndGlyphs" class="mn">-</text>
<text x="825" y="651.78" font-size="18" text-anchor="middle" textLength="7.1" lengthAdjust="spacingAndGlyphs" class="mn">-</text>
<text x="850.9" y="651.78" font-size="18" text-anchor="middle" textLength="7.1" lengthAdjust="spacingAndGlyphs" class="mn">-</text>
<text x="875.6" y="651.04" font-size="15.8" text-anchor="middle" class="sg">+</text>
<text x="900.9" y="651.78" font-size="18" text-anchor="middle" textLength="7.1" lengthAdjust="spacingAndGlyphs" class="mn">-</text>
<text x="927.9" y="651.78" font-size="18" text-anchor="middle" textLength="7.1" lengthAdjust="spacingAndGlyphs" class="mn">-</text>
<text x="953.3" y="651.04" font-size="15.8" text-anchor="middle" class="sg">+</text>
<text x="979.7" y="651.78" font-size="18" text-anchor="middle" textLength="7.1" lengthAdjust="spacingAndGlyphs" class="mn">-</text>
<text x="1004.4" y="651.04" font-size="15.8" text-anchor="middle" class="sg">+</text></g>
</svg>
</body></html>
